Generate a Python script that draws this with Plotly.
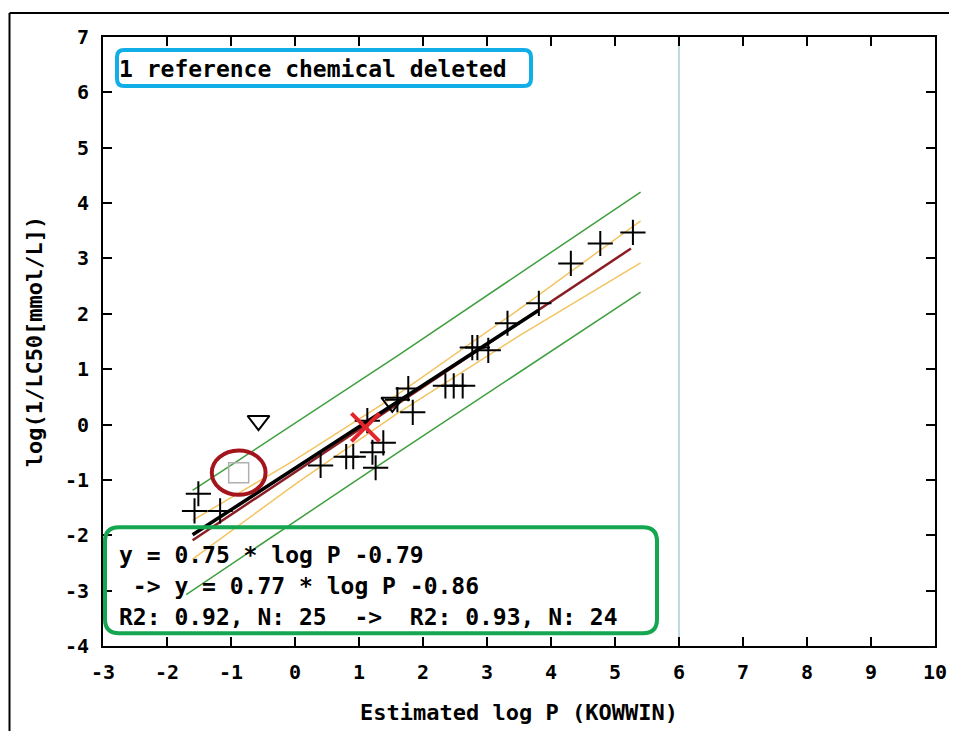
import plotly.graph_objects as go

# ---------------- data ----------------
cross_x = [-1.57, -1.51, -1.17, 0.40, 0.80, 0.91, 1.13, 1.21, 1.26, 1.38, 1.60, 1.77,
           1.84, 2.35, 2.48, 2.62, 2.77, 2.85, 3.02, 3.32, 3.81, 4.31, 4.77, 5.28]
cross_y = [-1.56, -1.25, -1.56, -0.74, -0.58, -0.58, 0.07, -0.50, -0.78, -0.33, 0.45, 0.65,
           0.22, 0.70, 0.70, 0.70, 1.39, 1.39, 1.34, 1.83, 2.19, 2.91, 3.27, 3.47]

tri_x = [-0.57, 1.52]
tri_y = [0.07, 0.40]

deleted_x = [-0.88]
deleted_y = [-0.87]

mean_x = [1.10]
mean_y = [-0.05]

# regression lines (end points)
old_fit_x = [-1.6, 3.8]
old_fit_y = [-1.99, 2.06]
new_fit_x = [-1.6, 5.25]
new_fit_y = [-2.09, 3.18]

# confidence band (orange)
conf_x = [-1.6, 0.0, 1.6, 3.5, 5.4]
conf_up = [-1.73, -0.64, 0.54, 2.08, 3.68]
conf_lo = [-2.43, -1.08, 0.20, 1.60, 2.92]

# prediction band (green)
pred_up_x = [-1.6, 1.6, 5.4]
pred_up = [-1.19, 1.24, 4.20]
pred_lo_x = [-1.7, 1.6, 5.4]
pred_lo = [-3.07, -0.51, 2.39]

domain_limit = 6  # vertical light-blue line

x_ticks = list(range(-3, 11))
y_ticks = list(range(-4, 8))

txt_deleted = "1 reference chemical deleted"
txt_eq1 = "y = 0.75 * log P -0.79"
txt_eq2 = "\u00a0-> y = 0.77 * log P -0.86"
txt_r2 = "R2: 0.92, N: 25\u00a0\u00a0->\u00a0\u00a0R2: 0.93, N: 24"

FONT = "DejaVu Sans Mono"

fig = go.Figure()

# bands
fig.add_trace(go.Scatter(x=pred_up_x, y=pred_up, mode="lines",
                         line=dict(color="#3f9f3f", width=1.5), showlegend=False))
fig.add_trace(go.Scatter(x=pred_lo_x, y=pred_lo, mode="lines",
                         line=dict(color="#3f9f3f", width=1.5), showlegend=False))
fig.add_trace(go.Scatter(x=conf_x, y=conf_up, mode="lines",
                         line=dict(color="#f2c462", width=1.5), showlegend=False))
fig.add_trace(go.Scatter(x=conf_x, y=conf_lo, mode="lines",
                         line=dict(color="#f2c462", width=1.5), showlegend=False))
# fits
fig.add_trace(go.Scatter(x=new_fit_x, y=new_fit_y, mode="lines",
                         line=dict(color="#8b1e24", width=2.5), showlegend=False))
fig.add_trace(go.Scatter(x=old_fit_x, y=old_fit_y, mode="lines",
                         line=dict(color="#000000", width=3.5), showlegend=False))

# points
fig.add_trace(go.Scatter(x=cross_x, y=cross_y, mode="markers",
                         marker=dict(symbol="cross-thin", size=18,
                                     line=dict(color="black", width=2)),
                         showlegend=False))
fig.add_trace(go.Scatter(x=tri_x, y=tri_y, mode="markers",
                         marker=dict(symbol="triangle-down-open", size=19,
                                     color="black", line=dict(width=2)),
                         showlegend=False))
fig.add_trace(go.Scatter(x=deleted_x, y=deleted_y, mode="markers",
                         marker=dict(symbol="square-open", size=20,
                                     color="#b0b0b0", line=dict(width=1.5)),
                         showlegend=False))
fig.add_trace(go.Scatter(x=mean_x, y=mean_y, mode="markers",
                         marker=dict(symbol="x-thin", size=28,
                                     line=dict(color="#e3262b", width=4)),
                         showlegend=False))

# vertical domain line
fig.add_shape(type="line", xref="x", yref="paper", x0=domain_limit, x1=domain_limit,
              y0=0, y1=1, line=dict(color="#a9cfdc", width=1.5), layer="below")

# red ellipse around deleted chemical
fig.add_shape(type="circle", xref="x", yref="y",
              x0=deleted_x[0] - 0.42, x1=deleted_x[0] + 0.42,
              y0=deleted_y[0] - 0.40, y1=deleted_y[0] + 0.40,
              line=dict(color="#a3141c", width=4))

# plot area in page pixels (page has an 8px body margin)
L, R, T, B = 103.0, 935.0, 37.0, 645.7


def px(x):
    return (x - L) / (R - L)


def py(y):
    return (B - y) / (B - T)


def rounded(x0, y0, x1, y1, r):
    pts = [
        f"M {px(x0 + r)},{py(y0)}",
        f"L {px(x1 - r)},{py(y0)}",
        f"Q {px(x1)},{py(y0)} {px(x1)},{py(y0 + r)}",
        f"L {px(x1)},{py(y1 - r)}",
        f"Q {px(x1)},{py(y1)} {px(x1 - r)},{py(y1)}",
        f"L {px(x0 + r)},{py(y1)}",
        f"Q {px(x0)},{py(y1)} {px(x0)},{py(y1 - r)}",
        f"L {px(x0)},{py(y0 + r)}",
        f"Q {px(x0)},{py(y0)} {px(x0 + r)},{py(y0)} Z",
    ]
    return " ".join(pts)


fig.add_shape(type="path", xref="paper", yref="paper",
              path=rounded(117, 50, 531, 86, 7), line=dict(color="#12aee8", width=4))
fig.add_shape(type="path", xref="paper", yref="paper",
              path=rounded(105, 527, 657, 633, 14), line=dict(color="#14a651", width=4))

# outer frame (top and left edges)
fig.add_shape(type="line", xref="paper", yref="paper",
              x0=px(9.5), x1=1.1, y0=py(13), y1=py(13),
              line=dict(color="black", width=2))
fig.add_shape(type="line", xref="paper", yref="paper",
              x0=px(9.5), x1=px(9.5), y0=py(13), y1=-0.2,
              line=dict(color="black", width=2))

tf = dict(family=FONT, size=23, color="black", weight="bold")


def ann(text, xpix, ypix):
    fig.add_annotation(text=text, xref="paper", yref="paper",
                       x=px(xpix), y=py(ypix),
                       xanchor="left", yanchor="middle", showarrow=False, font=tf)


ann(txt_deleted, 117, 69)
ann(txt_eq1, 117, 555)
ann(txt_eq2, 117, 586)
ann(txt_r2, 117, 617)

axis_common = dict(showgrid=False, zeroline=False, showline=True, linecolor="black",
                   linewidth=2, mirror="ticks", ticks="inside", ticklen=9, tickwidth=2,
                   tickcolor="black",
                   tickfont=dict(family=FONT, size=20, color="black", weight="bold"),
                   automargin=False)

fig.update_xaxes(range=[-3, 10], tickvals=x_ticks, ticktext=[str(v) for v in x_ticks],
                 ticklabelstandoff=7,
                 title=dict(text="Estimated log P (KOWWIN)", standoff=22,
                            font=dict(family=FONT, size=22, color="black", weight="bold")),
                 **axis_common)
fig.update_yaxes(range=[-4, 7], tickvals=y_ticks, ticktext=[str(v) for v in y_ticks],
                 ticklabelstandoff=8,
                 title=dict(text="log(1/LC50[mmol/L])", standoff=16,
                            font=dict(family=FONT, size=22, color="black", weight="bold")),
                 **axis_common)

fig.update_layout(width=957, height=731, paper_bgcolor="white", plot_bgcolor="white",
                  margin=dict(l=L - 8, r=957 - (R - 8), t=T - 8, b=731 - (B - 8)),
                  showlegend=False)

fig.write_html("out.html")
